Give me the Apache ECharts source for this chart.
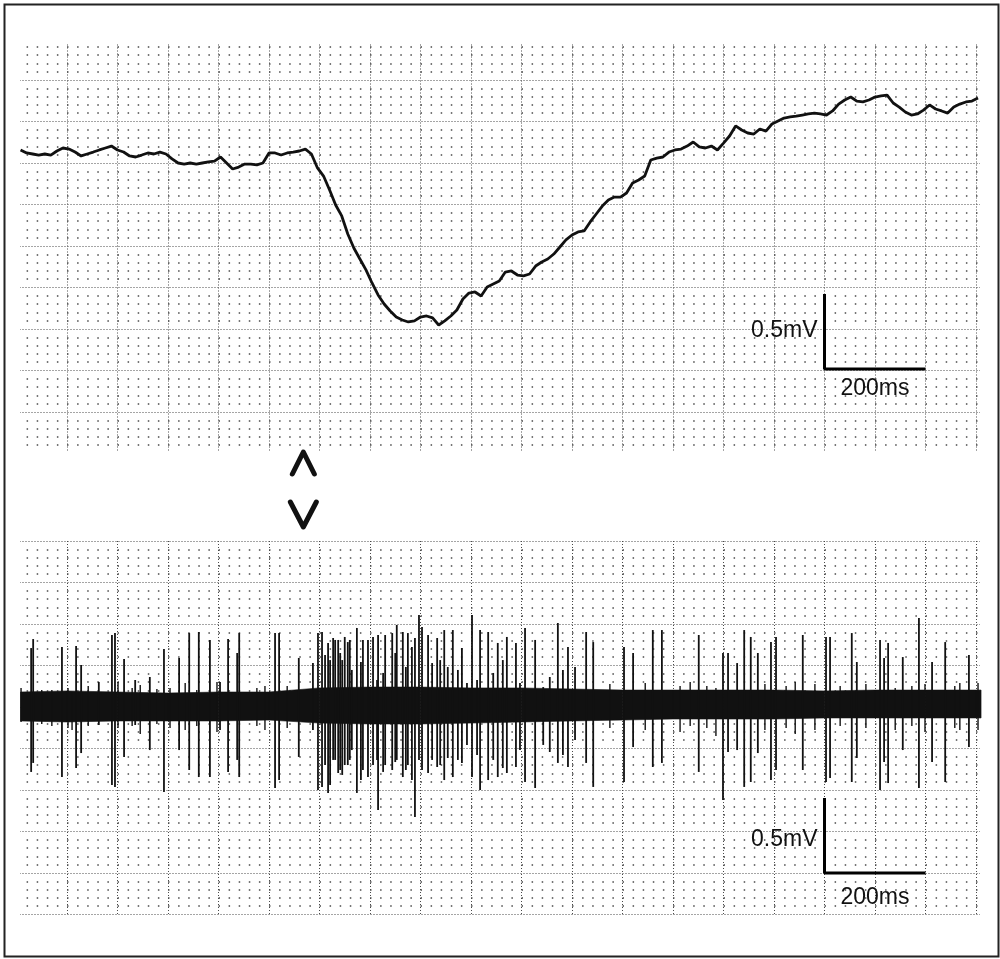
<!DOCTYPE html>
<html>
<head>
<meta charset="utf-8">
<style>
  html, body { margin: 0; background: #fff; }
  #chart { width: 1000px; height: 959px; }
</style>
<script src="https://cdn.jsdelivr.net/npm/echarts@6.0.0/dist/echarts.min.js"></script>
</head>
<body>
<div id="chart"></div>
<script>
// time in ms, potentials in mV

// slow field potential (upper trace), sampled every 12 ms from 8 ms
const FIELD_T0 = 8;
const FIELD_DT = 12;
const fieldV = [
  0.087, 0.067, 0.06, 0.053, 0.06, 0.053, 0.08, 0.1, 0.093, 0.073,
  0.047, 0.06, 0.073, 0.087, 0.1, 0.113, 0.087, 0.073, 0.047, 0.04,
  0.053, 0.067, 0.06, 0.073, 0.06, 0.027, 0, -0.007, 0, -0.007,
  0, 0.007, 0.013, 0.04, 0, -0.04, -0.027, -0.007, -0.007, -0.013,
  0, 0.067, 0.067, 0.053, 0.067, 0.073, 0.08, 0.093, 0.06, -0.033,
  -0.087, -0.18, -0.28, -0.353, -0.473, -0.567, -0.64, -0.713, -0.8, -0.88,
  -0.94, -0.987, -1.027, -1.047, -1.06, -1.053, -1.027, -1.02, -1.033, -1.08,
  -1.053, -1.02, -0.98, -0.907, -0.867, -0.86, -0.887, -0.827, -0.807, -0.787,
  -0.727, -0.72, -0.747, -0.753, -0.74, -0.687, -0.66, -0.64, -0.607, -0.56,
  -0.513, -0.48, -0.46, -0.453, -0.393, -0.34, -0.287, -0.247, -0.227, -0.227,
  -0.2, -0.133, -0.113, -0.087, 0.02, 0.033, 0.04, 0.073, 0.087, 0.093,
  0.113, 0.14, 0.107, 0.1, 0.113, 0.087, 0.133, 0.18, 0.247, 0.22,
  0.2, 0.193, 0.227, 0.213, 0.26, 0.28, 0.3, 0.307, 0.313, 0.32,
  0.327, 0.333, 0.327, 0.32, 0.347, 0.393, 0.42, 0.44, 0.413, 0.407,
  0.42, 0.44, 0.447, 0.453, 0.4, 0.373, 0.34, 0.32, 0.327, 0.353,
  0.387, 0.36, 0.347, 0.333, 0.373, 0.393, 0.407, 0.413, 0.433
];

// unit recording (lower trace): noise band envelope
const bandT = [8, 100, 200, 300, 400, 500, 600, 700, 800, 900, 1000,
  1100, 1200, 1300, 1400, 1500, 1600, 1700, 1800, 1900, 1910];
const bandHi = [0.1, 0.107, 0.1, 0.093, 0.1, 0.1, 0.127, 0.133, 0.133, 0.127, 0.127,
  0.12, 0.113, 0.113, 0.113, 0.113, 0.107, 0.113, 0.113, 0.113, 0.113];
const bandLo = [-0.093, -0.1, -0.093, -0.093, -0.093, -0.087, -0.107, -0.113, -0.113, -0.107, -0.1,
  -0.093, -0.087, -0.08, -0.08, -0.08, -0.073, -0.073, -0.073, -0.073, -0.073];

// spikes: time, positive peak, negative peak
const spikeT = [
  29, 33, 90, 118, 128, 163, 189, 195, 213, 235, 264, 292, 322, 342, 361, 383, 403, 419, 437, 441,
  512, 520, 559, 587, 597, 605, 617, 627, 637, 650, 660, 674, 686, 696, 706, 716, 730, 744, 753, 765,
  775, 789, 797, 815, 833, 847, 864, 882, 902, 918, 934, 953, 971, 989, 1007, 1027, 1072, 1092, 1106, 1128,
  1142, 1203, 1221, 1260, 1278, 1351, 1399, 1409, 1427, 1441, 1454, 1468, 1494, 1504, 1557, 1603, 1611, 1654, 1664, 1710,
  1718, 1726, 1755, 1787, 1813, 1839, 1886,
  611, 621, 631, 641, 645, 656, 664, 682, 714, 726, 750, 771, 783, 803, 823, 839, 854, 874, 892, 912,
  944, 963, 997, 1043, 1056, 1082
];
const spikeUp = [
  0.393, 0.453, 0.4, 0.407, 0.28, 0.167, 0.48, 0.493, 0.32, 0.18, 0.2, 0.387, 0.327, 0.493, 0.5, 0.447, 0.167, 0.453, 0.36, 0.493,
  0.493, 0.493, 0.327, 0.293, 0.493, 0.5, 0.427, 0.46, 0.447, 0.467, 0.447, 0.527, 0.447, 0.447, 0.467, 0.48, 0.48, 0.493, 0.547, 0.5,
  0.493, 0.46, 0.613, 0.48, 0.46, 0.513, 0.513, 0.393, 0.613, 0.513, 0.5, 0.427, 0.467, 0.427, 0.527, 0.447, 0.56, 0.4, 0.267, 0.5,
  0.433, 0.4, 0.36, 0.513, 0.513, 0.48, 0.36, 0.36, 0.293, 0.513, 0.467, 0.36, 0.433, 0.467, 0.48, 0.467, 0.467, 0.493, 0.3, 0.447,
  0.327, 0.427, 0.333, 0.593, 0.3, 0.433, 0.347,
  0.347, 0.313, 0.447, 0.36, 0.313, 0.433, 0.247, 0.3, 0.18, 0.227, 0.36, 0.267, 0.4, 0.533, 0.293, 0.313, 0.267, 0.247, 0.16, 0.18,
  0.227, 0.313, 0.16, 0.133, 0.2, 0.247
];
const spikeDown = [
  -0.433, -0.373, -0.467, -0.407, -0.307, -0.12, -0.52, -0.533, -0.333, -0.12, -0.287, -0.567, -0.287, -0.42, -0.467, -0.467, -0.153, -0.433, -0.353, -0.467,
  -0.54, -0.487, -0.333, -0.153, -0.553, -0.533, -0.573, -0.353, -0.44, -0.387, -0.353, -0.573, -0.42, -0.467, -0.387, -0.687, -0.387, -0.42, -0.353, -0.467,
  -0.387, -0.733, -0.353, -0.44, -0.4, -0.487, -0.467, -0.373, -0.467, -0.553, -0.487, -0.467, -0.44, -0.4, -0.5, -0.54, -0.373, -0.4, -0.22, -0.373,
  -0.533, -0.5, -0.267, -0.4, -0.373, -0.433, -0.62, -0.3, -0.287, -0.533, -0.5, -0.307, -0.487, -0.42, -0.42, -0.5, -0.473, -0.5, -0.34, -0.553,
  -0.367, -0.507, -0.287, -0.54, -0.367, -0.5, -0.267,
  -0.387, -0.52, -0.353, -0.42, -0.453, -0.387, -0.287, -0.487, -0.353, -0.433, -0.367, -0.42, -0.487, -0.42, -0.353, -0.387, -0.34, -0.353, -0.253, -0.32,
  -0.353, -0.407, -0.287, -0.253, -0.3, -0.32
];

// small units that make up the ragged edge of the noise band
const smallT = [9, 50, 70, 102, 110, 142, 201, 229, 245, 278, 304, 334, 357, 397, 476, 492, 536,
  1175, 1245, 1314, 1334, 1367, 1385, 1482, 1524, 1542, 1581, 1631, 1682, 1740, 1773, 1799, 1858, 1868, 1904];
const smallUp = [0.127, 0.113, 0.113, 0.127, 0.1, 0.14, 0.167, 0.127, 0.147, 0.12, 0.127, 0.16, 0.113, 0.167, 0.127, 0.14, 0.14,
  0.153, 0.16, 0.14, 0.167, 0.14, 0.127, 0.153, 0.14, 0.167, 0.153, 0.14, 0.153, 0.127, 0.14, 0.153, 0.14, 0.16, 0.16];
const smallDown = [-0.1, -0.113, -0.127, -0.14, -0.153, -0.127, -0.14, -0.127, -0.18, -0.113, -0.14, -0.153, -0.127, -0.167, -0.127, -0.153, -0.14,
  -0.14, -0.153, -0.167, -0.127, -0.14, -0.193, -0.153, -0.14, -0.18, -0.153, -0.127, -0.14, -0.153, -0.127, -0.167, -0.14, -0.153, -0.153];

const STIM_T = 568;          // stimulus marker
const T_MAX = 1910;
const Y_MAJOR = 0.2767;      // mV per major grid division
const SCALE_T = 1600;        // scale bar corner (ms)
const SCALE_V = [-1.373, -1.107];
const SCALE_MV = 0.5;
const SCALE_MS = 200;

const INK = '#111';
const GRID_INK = '#4a4a4a';

const chart = echarts.init(document.getElementById('chart'));

const xAxisFor = (gridIndex) => ({
  type: 'value',
  gridIndex,
  min: 0,
  max: T_MAX,
  interval: 100,
  axisLine: { show: false },
  axisTick: { show: false },
  axisLabel: { show: false },
  splitLine: {
    show: true,
    lineStyle: { color: GRID_INK, width: 1, type: [1, 2] },
  },
});

const yAxisFor = (gridIndex, lo, hi) => ({
  type: 'value',
  gridIndex,
  min: lo * Y_MAJOR,
  max: hi * Y_MAJOR,
  interval: Y_MAJOR,
  axisLine: { show: false },
  axisTick: { show: false },
  axisLabel: { show: false },
  splitLine: {
    show: true,
    lineStyle: { color: GRID_INK, width: 1, type: [1, 2] },
  },
  minorTick: { show: false, splitNumber: 5 },
  minorSplitLine: {
    show: true,
    lineStyle: { color: GRID_INK, width: 1.5, type: [1.5, 8.6] },
  },
});

const spikeSeries = (ts, ups, downs, width) => ({
  type: 'custom',
  xAxisIndex: 1,
  yAxisIndex: 1,
  data: ts.map((t, i) => [t, ups[i], downs[i]]),
  encode: { x: 0, y: [1, 2] },
  renderItem: (params, api) => {
    const top = api.coord([api.value(0), api.value(1)]);
    const bot = api.coord([api.value(0), api.value(2)]);
    return {
      type: 'line',
      shape: { x1: top[0], y1: top[1], x2: bot[0], y2: bot[1] },
      style: { stroke: INK, lineWidth: width },
    };
  },
  z: 4,
});

const scaleBar = (i) => ({
  type: 'line',
  xAxisIndex: i,
  yAxisIndex: i,
  data: [
    [SCALE_T, SCALE_V[i] + SCALE_MV],
    [SCALE_T, SCALE_V[i]],
    [SCALE_T + SCALE_MS, SCALE_V[i]],
  ],
  symbol: 'none',
  lineStyle: { color: '#000', width: 3 },
  z: 5,
});

chart.setOption({
  animation: false,
  backgroundColor: '#fff',
  grid: [
    { left: 16.5, top: 38.5, width: T_MAX * 0.505, height: 415 },
    { left: 16.5, top: 541, width: T_MAX * 0.505, height: 373.5 },
  ],
  xAxis: [xAxisFor(0), xAxisFor(1)],
  yAxis: [yAxisFor(0, -7, 3), yAxisFor(1, -5, 4)],
  series: [
    {
      type: 'line',
      xAxisIndex: 0,
      yAxisIndex: 0,
      data: fieldV.map((v, i) => [FIELD_T0 + i * FIELD_DT, v]),
      symbol: 'none',
      lineStyle: { color: INK, width: 2.8 },
      z: 4,
    },
    {
      type: 'custom',
      xAxisIndex: 1,
      yAxisIndex: 1,
      data: bandT.map((t, i) => [t, bandHi[i], bandLo[i]]),
      encode: { x: 0, y: [1, 2] },
      renderItem: (params, api) => {
        const i = params.dataIndex;
        if (i === 0) return null;
        const pts = [
          api.coord([bandT[i - 1], bandHi[i - 1]]),
          api.coord([bandT[i], bandHi[i]]),
          api.coord([bandT[i], bandLo[i]]),
          api.coord([bandT[i - 1], bandLo[i - 1]]),
        ];
        return {
          type: 'polygon',
          shape: { points: pts },
          style: { fill: INK, stroke: INK, lineWidth: 0.6 },
        };
      },
      z: 4,
    },
    spikeSeries(spikeT, spikeUp, spikeDown, 1.8),
    spikeSeries(smallT, smallUp, smallDown, 1.4),
    scaleBar(0),
    scaleBar(1),
  ],
});

// white margins hide the grid's outer edge lines, as on the original sheet
const mask = (x, y, width, height) => ({
  type: 'rect',
  shape: { x, y, width, height },
  style: { fill: '#fff' },
  z: 1,
});
const graphics = [
  mask(0, 0, 1000, 43),
  mask(0, 0, 20, 959),
  mask(980, 0, 20, 959),
  mask(0, 451, 1000, 86),
  {
    type: 'rect',
    shape: { x: 4.5, y: 4.5, width: 994, height: 952 },
    style: { fill: 'none', stroke: '#222', lineWidth: 2 },
    z: 10,
  },
];

// labels for the scale bars
const font = { fontFamily: '"Liberation Sans", Arial, sans-serif', fontSize: 23, fill: INK };
const labelGap = [19.5, 25];
[0, 1].forEach((i) => {
  const corner = chart.convertToPixel({ gridIndex: i }, [SCALE_T, SCALE_V[i]]);
  const topEnd = chart.convertToPixel({ gridIndex: i }, [SCALE_T, SCALE_V[i] + SCALE_MV]);
  const rightEnd = chart.convertToPixel({ gridIndex: i }, [SCALE_T + SCALE_MS, SCALE_V[i]]);
  graphics.push({
    type: 'text',
    x: corner[0] - 7,
    y: (corner[1] + topEnd[1]) / 2 + (i === 1 ? 4 : -1),
    style: { ...font, text: '0.5mV', align: 'right', verticalAlign: 'middle' },
    z: 10,
  });
  graphics.push({
    type: 'text',
    x: (corner[0] + rightEnd[0]) / 2,
    y: corner[1] + labelGap[i],
    style: { ...font, text: '200ms', align: 'center', verticalAlign: 'middle' },
    z: 10,
  });
});

// stimulus chevrons between the two traces
const stimX = chart.convertToPixel({ gridIndex: 0 }, [STIM_T, 0])[0];
const chevron = { fill: 'none', stroke: INK, lineWidth: 5, lineCap: 'round', lineJoin: 'round' };
graphics.push({
  type: 'polyline',
  shape: { points: [[stimX - 11, 474], [stimX, 452], [stimX + 11, 474]] },
  style: chevron,
  z: 10,
});
graphics.push({
  type: 'polyline',
  shape: { points: [[stimX - 13, 502], [stimX, 527], [stimX + 13, 502]] },
  style: chevron,
  z: 10,
});

chart.setOption({ graphic: graphics });
</script>
</body>
</html>
